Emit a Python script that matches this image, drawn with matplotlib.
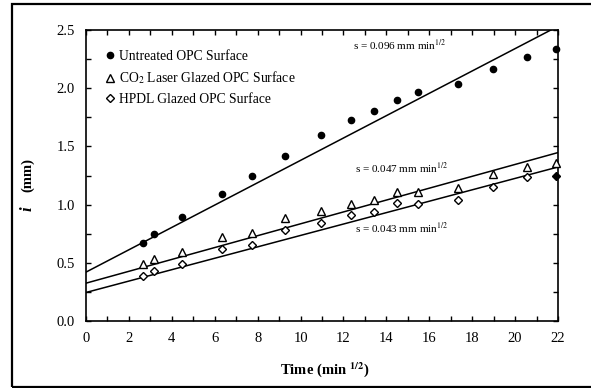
import numpy as np
import matplotlib
matplotlib.use("Agg")
import matplotlib.pyplot as plt
from matplotlib.patches import Rectangle

plt.rcParams["font.family"] = ["Liberation Serif", "DejaVu Serif"]
plt.rcParams["mathtext.fontset"] = "stix"

# time values (min^1/2)
t = [2.65, 3.16, 4.47, 6.32, 7.75, 9.28, 10.95, 12.37, 13.42, 14.49, 15.49, 17.32, 18.97, 20.55, 21.9]

untreated = [0.67, 0.745, 0.89, 1.09, 1.25, 1.415, 1.60, 1.727, 1.80, 1.90, 1.97, 2.04, 2.165, 2.265, 2.34]
co2 = [0.487, 0.533, 0.593, 0.719, 0.753, 0.882, 0.948, 1.005, 1.04, 1.11, 1.11, 1.14, 1.263, 1.326, 1.355]
hpdl = [0.39, 0.432, 0.492, 0.616, 0.653, 0.782, 0.845, 0.908, 0.936, 1.011, 1.005, 1.037, 1.154, 1.234, 1.246]

# fitted lines as drawn (intercept, slope)
fit_untreated = (0.42, 0.096)
fit_co2 = (0.325, 0.051)
fit_hpdl = (0.245, 0.049)

labels = ["Untreated OPC Surface", "CO$_2$ Laser Glazed OPC Surface", "HPDL Glazed OPC Surface"]
slope_text = ["s = 0.096 mm min$^{1/2}$", "s = 0.047 mm min$^{1/2}$", "s = 0.043 mm min$^{1/2}$"]

fig = plt.figure(figsize=(5.91, 3.88), dpi=100)
ax = fig.add_axes([86 / 591, 67 / 388, 472 / 591, 291 / 388])

xx = np.array([0, 22])
for (b, m) in (fit_untreated, fit_co2, fit_hpdl):
    ax.plot(xx, b + m * xx, color="black", lw=1.1, zorder=2)

ax.plot(t, untreated, "o", ms=4.5, mfc="black", mec="black", ls="none", label=labels[0], zorder=3, clip_on=False)
ax.plot(t, co2, "^", ms=6, mfc="white", mec="black", mew=1.0, ls="none", label=labels[1], zorder=3, clip_on=False)
ax.plot(t[:-1], hpdl[:-1], "D", ms=4.2, mfc="white", mec="black", mew=1.0, ls="none", label=labels[2], zorder=3)
ax.plot(t[-1:], hpdl[-1:], "D", ms=4.2, mfc="black", mec="black", ls="none", zorder=3, clip_on=False)

ax.text(12.45, 2.37, slope_text[0], fontsize=8, va="center")
ax.text(12.54, 1.32, slope_text[1], fontsize=8, va="center")
ax.text(12.54, 0.80, slope_text[2], fontsize=8, va="center")

ax.set_xlim(0, 22)
ax.set_ylim(0, 2.5)
ax.set_xticks(np.arange(0, 23, 2))
ax.set_xticks(np.arange(0, 23, 1), minor=True)
ax.set_yticks(np.arange(0, 2.51, 0.5))
ax.set_yticks(np.arange(0, 2.51, 0.25), minor=True)
ax.set_yticklabels([f"{v:.1f}" for v in np.arange(0, 2.51, 0.5)])
ax.tick_params(which="both", direction="in", length=3.5, width=1.0, top=True, right=True, labelsize=10.5)
ax.tick_params(axis="x", pad=8)
ax.tick_params(axis="y", pad=8)
for s in ax.spines.values():
    s.set_linewidth(1.2)

leg = ax.legend(loc="upper left", bbox_to_anchor=(0.017, 0.975), frameon=False, fontsize=9.8,
                handlelength=0.6, handletextpad=0.35, labelspacing=0.5, borderaxespad=0.5)

fig.text(324.5 / 591, 18 / 388, r"Time (min $^{\mathbf{1/2}}$)", fontsize=10.5, fontweight="bold",
         ha="center", va="center")
fig.text(28 / 591, (388 - 175) / 388, "(mm)", rotation=90, fontsize=10.5, fontweight="bold",
         ha="center", va="center")
fig.text(28 / 591, (388 - 209) / 388, "i", rotation=90, fontsize=12, fontweight="bold",
         fontstyle="italic", ha="center", va="center")

fig.patches.append(Rectangle((12 / 591, 1.5 / 388), 1.0, 383 / 388, transform=fig.transFigure,
                             fill=False, lw=1.6, ec="black"))

fig.savefig("out.png", dpi=100)
